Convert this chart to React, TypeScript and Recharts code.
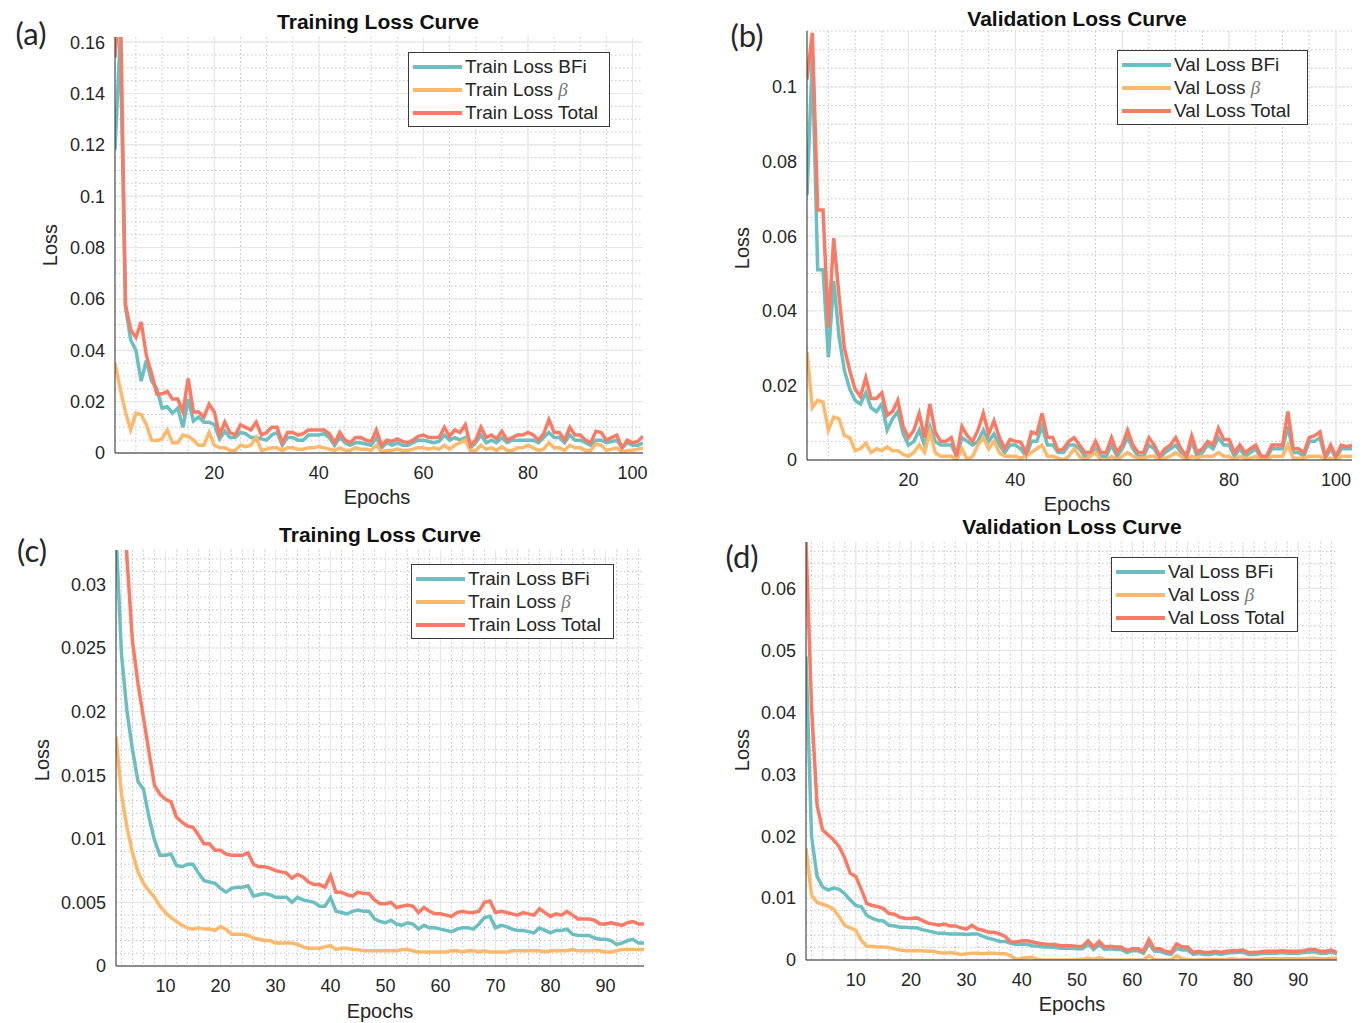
import { CartesianGrid, Legend, Line, LineChart, XAxis, YAxis } from 'recharts'

const TEAL = '#6cbfc0'
const ORANGE = '#fdb96b'
const RED = '#f87b65'
const INK = '#262626'
const FONT = '"Liberation Sans", Arial, Helvetica, sans-serif'

// (a) training loss, 102 epochs
const A_BFI = [
  0.118, 0.162, 0.057, 0.044, 0.04, 0.028, 0.036, 0.028, 0.025, 0.0175,
  0.018, 0.0155, 0.0175, 0.01, 0.021, 0.0125, 0.014, 0.012, 0.012, 0.011,
  0.0055, 0.0085, 0.006, 0.006, 0.008, 0.0075, 0.006, 0.006, 0.0055, 0.005,
  0.007, 0.008, 0.003, 0.006, 0.006, 0.005, 0.005, 0.007, 0.007, 0.007,
  0.0075, 0.006, 0.003, 0.006, 0.004, 0.003, 0.004, 0.004, 0.0035, 0.003,
  0.006, 0.002, 0.004, 0.003, 0.004, 0.003, 0.003, 0.004, 0.005, 0.005,
  0.0045, 0.004, 0.0045, 0.007, 0.005, 0.006, 0.005, 0.006, 0.002, 0.004,
  0.007, 0.004, 0.005, 0.004, 0.006, 0.004, 0.005, 0.005, 0.005, 0.005,
  0.005, 0.004, 0.006, 0.008, 0.006, 0.006, 0.004, 0.007, 0.005, 0.005,
  0.004, 0.003, 0.005, 0.005, 0.004, 0.0045, 0.005, 0.002, 0.004, 0.003,
  0.003, 0.004,
]
const A_BETA = [
  0.035, 0.025, 0.016, 0.009, 0.0155, 0.015, 0.011, 0.005, 0.0048, 0.0055,
  0.009, 0.004, 0.004, 0.007, 0.0065, 0.005, 0.003, 0.003, 0.008, 0.003,
  0.002, 0.002, 0.001, 0.001, 0.003, 0.0025, 0.003, 0.006, 0.001, 0.0015,
  0.002, 0.002, 0.001, 0.002, 0.002, 0.0015, 0.0015, 0.002, 0.002, 0.0025,
  0.002, 0.0015, 0.001, 0.002, 0.001, 0.001, 0.002, 0.0015, 0.0015, 0.001,
  0.003, 0.0005, 0.001, 0.001, 0.0015, 0.001, 0.001, 0.0015, 0.002, 0.002,
  0.0015, 0.002, 0.0015, 0.003, 0.0015, 0.003, 0.004, 0.005, 0.001, 0.001,
  0.003, 0.0015, 0.002, 0.001, 0.0025, 0.001, 0.001, 0.002, 0.002, 0.003,
  0.002, 0.001, 0.0015, 0.004, 0.002, 0.002, 0.001, 0.003, 0.002, 0.002,
  0.001, 0.001, 0.0035, 0.003, 0.001, 0.0015, 0.002, 0.0002, 0.001, 0.001,
  0.0015, 0.002,
]
const A_TOTAL = [
  0.154, 0.18, 0.058, 0.048, 0.045, 0.051, 0.038, 0.031, 0.023, 0.023,
  0.024, 0.021, 0.021, 0.016, 0.029, 0.016, 0.016, 0.014, 0.019, 0.016,
  0.007, 0.012, 0.008, 0.007, 0.011, 0.01, 0.009, 0.012, 0.007, 0.008,
  0.01, 0.01, 0.004, 0.008, 0.008, 0.007, 0.0075, 0.009, 0.009, 0.009,
  0.009, 0.0075, 0.004, 0.008, 0.005, 0.004, 0.006, 0.006, 0.005, 0.0045,
  0.009, 0.003, 0.005, 0.0045, 0.0055, 0.0045, 0.004, 0.005, 0.0065, 0.007,
  0.006, 0.006, 0.006, 0.01, 0.0065, 0.009, 0.008, 0.011, 0.003, 0.005,
  0.01, 0.006, 0.007, 0.0055, 0.0085, 0.005, 0.006, 0.007, 0.007, 0.008,
  0.007, 0.005, 0.0075, 0.013, 0.008, 0.008, 0.005, 0.01, 0.007, 0.007,
  0.005, 0.004, 0.0085, 0.008, 0.005, 0.006, 0.007, 0.002, 0.005, 0.004,
  0.0045, 0.0065,
]

// (b) validation loss, 103 epochs
const B_BFI = [
  0.071, 0.108, 0.051, 0.051, 0.0275, 0.048, 0.033, 0.024, 0.019, 0.016,
  0.015, 0.018, 0.014, 0.013, 0.015, 0.008, 0.011, 0.013, 0.007, 0.004,
  0.005, 0.008, 0.004, 0.009, 0.005, 0.004, 0.004, 0.004, 0.001, 0.006,
  0.005, 0.004, 0.005, 0.008, 0.005, 0.007, 0.004, 0.002, 0.004, 0.004,
  0.003, 0.001, 0.005, 0.005, 0.009, 0.004, 0.004, 0.002, 0.002, 0.004,
  0.004, 0.003, 0.001, 0.001, 0.003, 0.001, 0.001, 0.004, 0.001, 0.003,
  0.006, 0.003, 0.001, 0.001, 0.004, 0.003, 0.0005, 0.002, 0.003, 0.004,
  0.002, 0.0005, 0.005, 0.001, 0.002, 0.004, 0.003, 0.006, 0.004, 0.004,
  0.001, 0.003, 0.001, 0.002, 0.003, 0.0005, 0.0005, 0.003, 0.003, 0.003,
  0.009, 0.002, 0.002, 0.001, 0.005, 0.005, 0.006, 0.0005, 0.003, 0.0005,
  0.003, 0.003, 0.003,
]
const B_BETA = [
  0.029, 0.014, 0.016, 0.0155, 0.008, 0.0115, 0.011, 0.0065, 0.006, 0.0025,
  0.003, 0.0045, 0.002, 0.003, 0.0025, 0.0035, 0.0025, 0.0025, 0.0015, 0.001,
  0.002, 0.004, 0.002, 0.0075, 0.002, 0.001, 0.001, 0.001, 0, 0.003,
  0, 0.001, 0.004, 0.006, 0.003, 0.005, 0.002, 0.001, 0.001, 0.001,
  0.0005, 0.001, 0.002, 0.003, 0.004, 0.001, 0.001, 0.0005, 0, 0.001,
  0.003, 0.001, 0, 0.001, 0.002, 0, 0, 0.001, 0, 0.001,
  0.002, 0.001, 0.0005, 0.0005, 0.001, 0.001, 0, 0.0005, 0.001, 0.002,
  0.001, 0, 0.001, 0.0005, 0.001, 0.001, 0.001, 0.002, 0.001, 0.001,
  0, 0.001, 0.0005, 0.0005, 0.001, 0, 0, 0.001, 0.001, 0.001,
  0.004, 0.0005, 0.0005, 0.0005, 0.001, 0.001, 0.001, 0, 0.0005, 0,
  0.001, 0.001, 0.001,
]
const B_TOTAL = [
  0.102, 0.1145, 0.067, 0.067, 0.0355, 0.0595, 0.044, 0.03, 0.024, 0.019,
  0.017, 0.022, 0.0165, 0.0165, 0.018, 0.012, 0.013, 0.016, 0.009, 0.006,
  0.008, 0.0125, 0.006, 0.015, 0.0075, 0.005, 0.005, 0.006, 0.001, 0.009,
  0.0065, 0.005, 0.008, 0.0125, 0.007, 0.0105, 0.006, 0.003, 0.0055, 0.005,
  0.0048, 0.002, 0.0075, 0.007, 0.0125, 0.006, 0.006, 0.0025, 0.003, 0.005,
  0.006, 0.004, 0.002, 0.002, 0.005, 0.002, 0.002, 0.006, 0.002, 0.004,
  0.008, 0.004, 0.002, 0.002, 0.006, 0.004, 0.001, 0.003, 0.004, 0.006,
  0.003, 0.001, 0.0065, 0.002, 0.003, 0.005, 0.004, 0.0085, 0.0055, 0.0055,
  0.002, 0.004, 0.002, 0.003, 0.004, 0.001, 0.001, 0.004, 0.004, 0.004,
  0.013, 0.003, 0.003, 0.002, 0.006, 0.0065, 0.0075, 0.001, 0.004, 0.001,
  0.004, 0.0035, 0.004,
]

// (c) training loss, 97 epochs
const C_BFI = [
  0.034, 0.0245, 0.02, 0.017, 0.0145, 0.0139, 0.0117, 0.0099, 0.0087, 0.0087,
  0.0088, 0.0079, 0.0078, 0.008, 0.008, 0.0073, 0.0067, 0.0066, 0.0065, 0.0061,
  0.0058, 0.0061, 0.0062, 0.0062, 0.0063, 0.0055, 0.0056, 0.0057, 0.0056, 0.0054,
  0.0054, 0.0054, 0.005, 0.0054, 0.0052, 0.0051, 0.005, 0.0047, 0.0047, 0.0054,
  0.0043, 0.0042, 0.0041, 0.0043, 0.0044, 0.0043, 0.0043, 0.0037, 0.0035, 0.0034,
  0.0036, 0.0033, 0.0032, 0.0034, 0.0033, 0.0029, 0.0032, 0.003, 0.003, 0.0029,
  0.0028, 0.0027, 0.0029, 0.003, 0.003, 0.0029, 0.0033, 0.0038, 0.0039, 0.003,
  0.0032, 0.0031, 0.0029, 0.0028, 0.0028, 0.0027, 0.0026, 0.003, 0.0028, 0.0026,
  0.0028, 0.0028, 0.0029, 0.0025, 0.0024, 0.0024, 0.0024, 0.0022, 0.0021, 0.0021,
  0.002, 0.0017, 0.0018, 0.002, 0.0021, 0.0018, 0.0018,
]
const C_BETA = [
  0.018, 0.0135, 0.0109, 0.0089, 0.0074, 0.0065, 0.0059, 0.0054, 0.0047, 0.0042,
  0.0038, 0.0035, 0.0032, 0.003, 0.0029, 0.003, 0.0029, 0.0029, 0.0028, 0.0031,
  0.0029, 0.0025, 0.0025, 0.0025, 0.0024, 0.0022, 0.0021, 0.002, 0.002, 0.0018,
  0.0018, 0.0018, 0.0018, 0.0017, 0.0015, 0.0014, 0.0014, 0.0014, 0.0015, 0.0016,
  0.0013, 0.0014, 0.0014, 0.0013, 0.0013, 0.0012, 0.0012, 0.0012, 0.0012, 0.0012,
  0.0012, 0.0012, 0.0013, 0.0013, 0.0012, 0.0011, 0.0011, 0.0011, 0.0011, 0.0011,
  0.0011, 0.0012, 0.0012, 0.0011, 0.0012, 0.0012, 0.0011, 0.0012, 0.0011, 0.0011,
  0.0011, 0.0011, 0.0012, 0.0012, 0.0012, 0.0012, 0.0012, 0.0012, 0.0011, 0.0012,
  0.0012, 0.0012, 0.0012, 0.0013, 0.0012, 0.0012, 0.0012, 0.0012, 0.0012, 0.0011,
  0.0011, 0.0012, 0.0013, 0.0013, 0.0013, 0.0013, 0.0013,
]
const C_TOTAL = [
  0.052, 0.04, 0.032, 0.0255, 0.0222, 0.0195, 0.0168, 0.0142, 0.0135, 0.0131,
  0.0129, 0.0117, 0.0113, 0.011, 0.0109, 0.0103, 0.0096, 0.0096, 0.0091, 0.0091,
  0.0088, 0.0087, 0.0087, 0.0087, 0.0089, 0.008, 0.0078, 0.0078, 0.0077, 0.0075,
  0.0074, 0.0073, 0.0069, 0.0072, 0.007, 0.0066, 0.0064, 0.0064, 0.0062, 0.0071,
  0.0058, 0.0058, 0.0056, 0.0055, 0.0058, 0.0057, 0.0057, 0.0052, 0.0049, 0.0049,
  0.005, 0.0046, 0.0047, 0.0048, 0.0047, 0.0042, 0.0046, 0.0043, 0.0041, 0.0041,
  0.004, 0.0039, 0.0042, 0.0043, 0.0042, 0.0042, 0.0043, 0.005, 0.0051, 0.0042,
  0.0043, 0.0042, 0.0041, 0.004, 0.0042, 0.0041, 0.004, 0.0045, 0.0042, 0.0039,
  0.0041, 0.004, 0.0043, 0.004, 0.0037, 0.0037, 0.0037, 0.0036, 0.0033, 0.0033,
  0.0034, 0.0033, 0.0032, 0.0034, 0.0035, 0.0033, 0.0033,
]

// (d) validation loss, 97 epochs
const D_BFI = [
  0.049, 0.02, 0.0135, 0.0118, 0.0113, 0.0116, 0.0114, 0.0107, 0.0097, 0.0088,
  0.0086, 0.0072, 0.0067, 0.0064, 0.0063, 0.0056, 0.0055, 0.0053, 0.0053, 0.0052,
  0.0052, 0.0049, 0.0047, 0.0045, 0.0043, 0.0043, 0.0042, 0.0042, 0.0042, 0.0041,
  0.0042, 0.0042, 0.0038, 0.0035, 0.0033, 0.003, 0.003, 0.0027, 0.0025, 0.0026,
  0.0025, 0.0023, 0.0022, 0.0021, 0.0021, 0.002, 0.0019, 0.0019, 0.0019, 0.0018,
  0.0018, 0.0026, 0.0017, 0.0025, 0.0017, 0.0018, 0.0017, 0.0017, 0.0012, 0.0015,
  0.0015, 0.0011, 0.0026, 0.0014, 0.0014, 0.0011, 0.0009, 0.0019, 0.0016, 0.0016,
  0.0009, 0.0011, 0.0009, 0.0009, 0.0011, 0.0009, 0.0011, 0.0012, 0.0012, 0.0013,
  0.0009, 0.0009, 0.001, 0.0011, 0.0011, 0.0011, 0.0012, 0.0011, 0.0011, 0.0011,
  0.0012, 0.0013, 0.0013, 0.0011, 0.0011, 0.0013, 0.001,
]
const D_BETA = [
  0.018, 0.0105, 0.0093, 0.009, 0.0087, 0.0082, 0.007, 0.0056, 0.0052, 0.0048,
  0.0032, 0.0022, 0.0022, 0.0021, 0.0021, 0.002, 0.0018, 0.0016, 0.0015, 0.0015,
  0.0015, 0.0015, 0.0014, 0.0014, 0.0012, 0.0011, 0.0012, 0.0011, 0.0009, 0.001,
  0.0011, 0.0011, 0.001, 0.0011, 0.0011, 0.001, 0.001, 0.0007, 0.0001, 0.0003,
  0.0004, 0.0004, 0.0001, 0, 0, 0, 0, 0, 0, 0.0001,
  0.0001, 0.0003, 0.0001, 0.0004, 0.0001, 0, 0, 0, 0, 0,
  0, 0, 0.0007, 0.0001, 0, 0, 0, 0.0007, 0.0002, 0.0001,
  0, 0, 0.0001, 0.0001, 0.0001, 0.0001, 0.0001, 0.0002, 0.0001, 0.0001,
  0.0001, 0.0001, 0.0001, 0.0002, 0.0002, 0.0002, 0.0002, 0.0002, 0.0002, 0.0002,
  0.0002, 0.0003, 0.0003, 0.0002, 0.0002, 0.0003, 0.0003,
]
const D_TOTAL = [
  0.0675, 0.041, 0.025, 0.021, 0.0202, 0.0194, 0.0183, 0.0165, 0.014, 0.0135,
  0.0114, 0.0091, 0.0088, 0.0086, 0.0083, 0.0075, 0.0074, 0.0069, 0.0067, 0.0067,
  0.0068, 0.0064, 0.006, 0.0058, 0.0056, 0.0058, 0.0055, 0.0055, 0.0052, 0.005,
  0.0056, 0.005, 0.0048, 0.0045, 0.0045, 0.0042, 0.0038, 0.0029, 0.0029, 0.0031,
  0.0031, 0.0029, 0.0027, 0.0026, 0.0025, 0.0025, 0.0023, 0.0023, 0.0023, 0.0022,
  0.0022, 0.0031, 0.0021, 0.003, 0.0021, 0.0022, 0.0021, 0.0021, 0.0015, 0.0018,
  0.0018, 0.0014, 0.0033, 0.0018, 0.0018, 0.0014, 0.0012, 0.0026, 0.0021, 0.0021,
  0.0012, 0.0014, 0.0012, 0.0012, 0.0014, 0.0012, 0.0014, 0.0015, 0.0015, 0.0016,
  0.0012, 0.0012, 0.0013, 0.0014, 0.0014, 0.0014, 0.0015, 0.0014, 0.0014, 0.0014,
  0.0015, 0.0017, 0.0017, 0.0014, 0.0014, 0.0016, 0.0012,
]

const X_TICKS_20 = [20, 40, 60, 80, 100]
const X_TICKS_10 = [10, 20, 30, 40, 50, 60, 70, 80, 90]
const A_Y_TICKS = [0, 0.02, 0.04, 0.06, 0.08, 0.1, 0.12, 0.14, 0.16]
const B_Y_TICKS = [0, 0.02, 0.04, 0.06, 0.08, 0.1]
const C_Y_TICKS = [0, 0.005, 0.01, 0.015, 0.02, 0.025, 0.03]
const D_Y_TICKS = [0, 0.01, 0.02, 0.03, 0.04, 0.05, 0.06]

// minor grid positions (dotted lines), like matlab's minor grid
function steps(from: number, to: number, step: number) {
  const out: number[] = []
  for (let v = from; v <= to + 1e-9; v += step) out.push(Number(v.toFixed(5)))
  return out
}

type Box = { left: number; top: number; right: number; bottom: number }

type PanelProps = {
  plot: Box
  xMax: number
  yMax: number
  xTicks: number[]
  yTicks: number[]
  xMinor: number[]
  yMinor: number[]
  bfi: number[]
  beta: number[]
  total: number[]
  prefix: string
  legend: { left: number; top: number; width: number }
}

const Y_AXIS_W = 70
const X_AXIS_H = 45
const PAD_L = 20

function LegendBox({ prefix, width }: { prefix: string; width: number }) {
  const rows = [
    { color: TEAL, text: <>{prefix} Loss BFi</> },
    {
      color: ORANGE,
      text: (
        <>
          {prefix} Loss{' '}
          <span style={{ fontFamily: '"Liberation Serif", serif', fontStyle: 'italic', color: '#777' }}>β</span>
        </>
      ),
    },
    { color: RED, text: <>{prefix} Loss Total</> },
  ]
  return (
    <div
      style={{
        width,
        boxSizing: 'border-box',
        background: '#fff',
        border: '1px solid #3a3a3a',
        padding: '2px 4px',
        fontFamily: FONT,
        fontSize: 19,
        color: INK,
      }}
    >
      {rows.map((r, i) => (
        <div key={i} style={{ display: 'flex', alignItems: 'center', height: 23, whiteSpace: 'nowrap' }}>
          <span style={{ width: 49, height: 4, background: r.color, marginRight: 3, flex: 'none' }} />
          <span>{r.text}</span>
        </div>
      ))}
    </div>
  )
}

function Panel(p: PanelProps) {
  const left = p.plot.left - Y_AXIS_W - PAD_L
  const top = p.plot.top - 10
  const width = p.plot.right - left + 12
  const height = p.plot.bottom - top + X_AXIS_H
  const rows = p.total.map((t, i) => ({ epoch: i + 1, bfi: p.bfi[i], beta: p.beta[i], total: t }))
  const tick = { fontSize: 18, fill: INK, fontFamily: FONT }

  return (
    <div style={{ position: 'absolute', left, top, width, height }}>
      <LineChart
        width={width}
        height={height}
        data={rows}
        margin={{ top: 10, right: 12, bottom: 0, left: PAD_L }}
        style={{ fontFamily: FONT }}
      >
        <CartesianGrid
          horizontalValues={p.yMinor}
          verticalValues={p.xMinor}
          stroke="#c4c4c4"
          strokeDasharray="1.5 2.5"
        />
        <CartesianGrid horizontalValues={p.yTicks} verticalValues={p.xTicks} stroke="#e6e6e6" />
        <XAxis
          type="number"
          dataKey="epoch"
          domain={[1, p.xMax]}
          ticks={p.xTicks}
          allowDataOverflow
          height={X_AXIS_H}
          tickLine={false}
          tickMargin={7}
          axisLine={{ stroke: INK }}
          tick={tick}
          interval={0}
        />
        <YAxis
          type="number"
          domain={[0, p.yMax]}
          ticks={p.yTicks}
          allowDataOverflow
          width={Y_AXIS_W}
          tickLine={false}
          tickMargin={4}
          axisLine={{ stroke: INK }}
          tick={tick}
          interval={0}
        />
        <Legend
          layout="vertical"
          align="center"
          verticalAlign="middle"
          wrapperStyle={{ left: p.legend.left - left, top: p.legend.top - top, width: p.legend.width }}
          content={() => <LegendBox prefix={p.prefix} width={p.legend.width} />}
        />
        <Line type="linear" dataKey="bfi" stroke={TEAL} strokeWidth={3.5} dot={false} isAnimationActive={false} />
        <Line type="linear" dataKey="beta" stroke={ORANGE} strokeWidth={3.5} dot={false} isAnimationActive={false} />
        <Line type="linear" dataKey="total" stroke={RED} strokeWidth={3.5} dot={false} isAnimationActive={false} />
      </LineChart>
    </div>
  )
}

function Text({ x, y, size, bold, rotate, font, children }: {
  x: number; y: number; size: number; bold?: boolean; rotate?: boolean; font?: string; children: React.ReactNode
}) {
  return (
    <div
      style={{
        position: 'absolute',
        left: x,
        top: y,
        transform: `translate(-50%, -50%)${rotate ? ' rotate(-90deg)' : ''}`,
        fontFamily: font ?? FONT,
        fontSize: size,
        fontWeight: bold ? 700 : 400,
        color: bold ? '#111' : INK,
        whiteSpace: 'nowrap',
        lineHeight: 1,
      }}
    >
      {children}
    </div>
  )
}

const LETTER_FONT = 'Lato, "Open Sans", sans-serif'

export default function App() {
  return (
    <div style={{ position: 'absolute', left: 0, top: 0, width: 1363, height: 1023, background: '#fff', overflow: 'hidden' }}>
      <Panel
        plot={{ left: 115, top: 37, right: 643, bottom: 453 }}
        xMax={102}
        yMax={0.162}
        xTicks={X_TICKS_20}
        yTicks={A_Y_TICKS}
        xMinor={steps(5, 100, 5)}
        yMinor={steps(0.005, 0.16, 0.005)}
        bfi={A_BFI}
        beta={A_BETA}
        total={A_TOTAL}
        prefix="Train"
        legend={{ left: 408, top: 52, width: 202 }}
      />
      <Panel
        plot={{ left: 807, top: 31, right: 1352, bottom: 460 }}
        xMax={103}
        yMax={0.115}
        xTicks={X_TICKS_20}
        yTicks={B_Y_TICKS}
        xMinor={steps(5, 100, 5)}
        yMinor={steps(0.005, 0.115, 0.005)}
        bfi={B_BFI}
        beta={B_BETA}
        total={B_TOTAL}
        prefix="Val"
        legend={{ left: 1117, top: 50, width: 191 }}
      />
      <Panel
        plot={{ left: 116, top: 550, right: 644, bottom: 966 }}
        xMax={97}
        yMax={0.0327}
        xTicks={X_TICKS_10}
        yTicks={C_Y_TICKS}
        xMinor={steps(2, 96, 2)}
        yMinor={steps(0.001, 0.032, 0.001)}
        bfi={C_BFI}
        beta={C_BETA}
        total={C_TOTAL}
        prefix="Train"
        legend={{ left: 411, top: 564, width: 203 }}
      />
      <Panel
        plot={{ left: 806, top: 542, right: 1337, bottom: 960 }}
        xMax={97}
        yMax={0.0675}
        xTicks={X_TICKS_10}
        yTicks={D_Y_TICKS}
        xMinor={steps(2, 96, 2)}
        yMinor={steps(0.002, 0.066, 0.002)}
        bfi={D_BFI}
        beta={D_BETA}
        total={D_TOTAL}
        prefix="Val"
        legend={{ left: 1111, top: 557, width: 187 }}
      />

      <Text x={378} y={21} size={21} bold>Training Loss Curve</Text>
      <Text x={1077} y={18} size={21} bold>Validation Loss Curve</Text>
      <Text x={380} y={534} size={21} bold>Training Loss Curve</Text>
      <Text x={1072} y={526} size={21} bold>Validation Loss Curve</Text>

      <Text x={377} y={497} size={20}>Epochs</Text>
      <Text x={1077} y={504} size={20}>Epochs</Text>
      <Text x={380} y={1011} size={20}>Epochs</Text>
      <Text x={1072} y={1004} size={20}>Epochs</Text>

      <Text x={50} y={245} size={20} rotate>Loss</Text>
      <Text x={742} y={248} size={20} rotate>Loss</Text>
      <Text x={42} y={760} size={20} rotate>Loss</Text>
      <Text x={742} y={750} size={20} rotate>Loss</Text>

      <Text x={31} y={33} size={31} font={LETTER_FONT}>(a)</Text>
      <Text x={747} y={35} size={31} font={LETTER_FONT}>(b)</Text>
      <Text x={32} y={550} size={31} font={LETTER_FONT}>(c)</Text>
      <Text x={742} y={556} size={31} font={LETTER_FONT}>(d)</Text>
    </div>
  )
}
